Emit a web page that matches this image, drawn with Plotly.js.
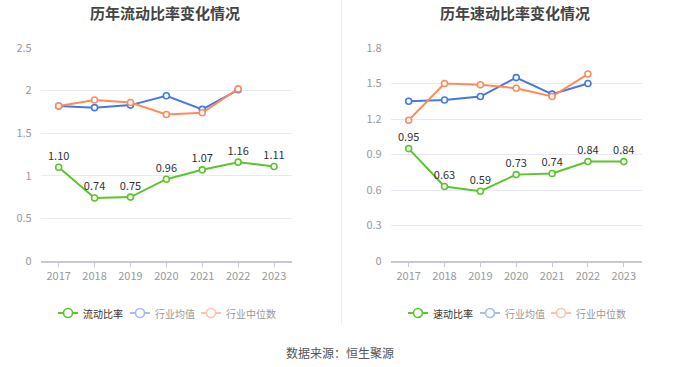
<!DOCTYPE html>
<html>
<head>
<meta charset="utf-8">
<script src="https://cdn.plot.ly/plotly-3.0.1.min.js"></script>
<style>html,body{margin:0;padding:0;background:#fff;}#chart{width:680px;height:367px;}</style>
</head>
<body>
<div id="chart"></div>
<script>
const years = ['2017','2018','2019','2020','2021','2022','2023'];
const currentRatio = [1.10, 0.74, 0.75, 0.96, 1.07, 1.16, 1.11];
const currentAvg = [1.82, 1.80, 1.83, 1.94, 1.78, 2.01, null];
const currentMedian = [1.82, 1.89, 1.86, 1.72, 1.74, 2.02, null];
const quickRatio = [0.95, 0.63, 0.59, 0.73, 0.74, 0.84, 0.84];
const quickAvg = [1.35, 1.36, 1.39, 1.55, 1.41, 1.50, null];
const quickMedian = [1.19, 1.50, 1.49, 1.46, 1.39, 1.58, null];
const leftTickVals = [0, 0.5, 1, 1.5, 2, 2.5];
const leftTickText = ['0', '0.5', '1', '1.5', '2', '2.5'];
const rightTickVals = [0, 0.3, 0.6, 0.9, 1.2, 1.5, 1.8];
const rightTickText = ['0', '0.3', '0.6', '0.9', '1.2', '1.5', '1.8'];
const leftLegendNames = ['流动比率', '行业均值', '行业中位数'];
const rightLegendNames = ['速动比率', '行业均值', '行业中位数'];

const GREEN = '#5cc52c', BLUE = '#4379e2', ORANGE = '#ff8b5b';
const FONT = '"Noto Sans CJK SC", "Noto Sans", sans-serif';

function mk(x, y, color, name, xa, ya, withText) {
  return {
    x: x, y: y, type: 'scatter',
    mode: withText ? 'lines+markers+text' : 'lines+markers',
    name: name, xaxis: xa, yaxis: ya, showlegend: false,
    line: {color: color, width: 2},
    marker: {size: 6, color: '#fff', line: {color: color, width: 1.6}},
    text: withText ? y.map(v => v.toFixed(2)) : undefined,
    textposition: 'top center',
    textfont: {size: 11, color: '#333', family: FONT},
    cliponaxis: false, hoverinfo: 'skip'
  };
}

const data = [
  mk(years, currentAvg, BLUE, leftLegendNames[1], 'x', 'y', false),
  mk(years, currentMedian, ORANGE, leftLegendNames[2], 'x', 'y', false),
  mk(years, currentRatio, GREEN, leftLegendNames[0], 'x', 'y', true),
  mk(years, quickAvg, BLUE, rightLegendNames[1], 'x2', 'y2', false),
  mk(years, quickMedian, ORANGE, rightLegendNames[2], 'x2', 'y2', false),
  mk(years, quickRatio, GREEN, rightLegendNames[0], 'x2', 'y2', true)
];

const xCommon = {
  type: 'category', range: [-0.5, 6.5], showgrid: false, zeroline: false,
  showline: true, linecolor: '#c8c8d0', linewidth: 2,
  ticks: 'outside', ticklen: 4, tickcolor: '#c8c8d0',
  tickfont: {size: 11, color: '#999', family: FONT}, fixedrange: true
};
const yCommon = {
  showgrid: true, gridcolor: '#e6eaf5', gridwidth: 1, zeroline: false,
  showline: false, ticks: '', tickfont: {size: 11, color: '#999', family: FONT},
  ticklabelstandoff: 8, fixedrange: true
};

// custom legends (paper pixel positions)
const W = 680, H = 367;
const shapes = [
  {type: 'line', xref: 'paper', yref: 'paper', x0: 341.5/W, x1: 341.5/W, y0: 1, y1: 1 - 325/H, line: {color: '#eeeeee', width: 1}}
];
const annotations = [
  {text: '<b>历年流动比率变化情况</b>', xref: 'paper', yref: 'paper', x: 165/W, y: 1 - 12/H, xanchor: 'center', yanchor: 'middle', showarrow: false, font: {size: 15, color: '#444', family: FONT}},
  {text: '<b>历年速动比率变化情况</b>', xref: 'paper', yref: 'paper', x: 515/W, y: 1 - 12/H, xanchor: 'center', yanchor: 'middle', showarrow: false, font: {size: 15, color: '#444', family: FONT}},
  {text: '数据来源：恒生聚源', xref: 'paper', yref: 'paper', x: 340/W, y: 1 - 352/H, xanchor: 'center', yanchor: 'middle', showarrow: false, font: {size: 12, color: '#555', family: FONT}}
];
const legendStyles = [
  {line: GREEN, text: '#333'},
  {line: '#a3bdf2', text: '#999'},
  {line: '#ffc2aa', text: '#999'}
];
function addLegend(names, x0s) {
  const yc = 313;
  names.forEach((nm, i) => {
    const s = legendStyles[i];
    const x0 = x0s[i];
    shapes.push({type: 'line', xref: 'paper', yref: 'paper', x0: x0/W, x1: (x0 + 20)/W, y0: 1 - yc/H, y1: 1 - yc/H, line: {color: s.line, width: 2}});
    shapes.push({type: 'circle', xref: 'paper', yref: 'paper', x0: (x0 + 5.5)/W, x1: (x0 + 14.5)/W, y0: 1 - (yc + 4.5)/H, y1: 1 - (yc - 4.5)/H, fillcolor: '#fff', line: {color: s.line, width: 1.6}});
    annotations.push({text: nm, xref: 'paper', yref: 'paper', x: (x0 + 23)/W, y: 1 - yc/H, xanchor: 'left', yanchor: 'middle', showarrow: false, font: {size: 10, color: s.text, family: FONT}});
  });
}
addLegend(leftLegendNames, [58, 130, 201]);
addLegend(rightLegendNames, [408, 480, 551]);

const layout = {
  width: W, height: H,
  margin: {l: 0, r: 0, t: 0, b: 0},
  paper_bgcolor: '#fff', plot_bgcolor: '#fff',
  font: {family: FONT},
  showlegend: false,
  xaxis: Object.assign({}, xCommon, {domain: [0.0599, 0.4294], anchor: 'y'}),
  yaxis: Object.assign({}, yCommon, {range: [0, 2.5], tickvals: leftTickVals, ticktext: leftTickText, domain: [0.2888, 0.8692], anchor: 'x'}),
  xaxis2: Object.assign({}, xCommon, {domain: [0.5746, 0.9437], anchor: 'y2'}),
  yaxis2: Object.assign({}, yCommon, {range: [0, 1.8], tickvals: rightTickVals, ticktext: rightTickText, domain: [0.2888, 0.8692], anchor: 'x2'}),
  shapes: shapes,
  annotations: annotations
};

Plotly.newPlot('chart', data, layout, {displayModeBar: false, staticPlot: true});
</script>
</body>
</html>
